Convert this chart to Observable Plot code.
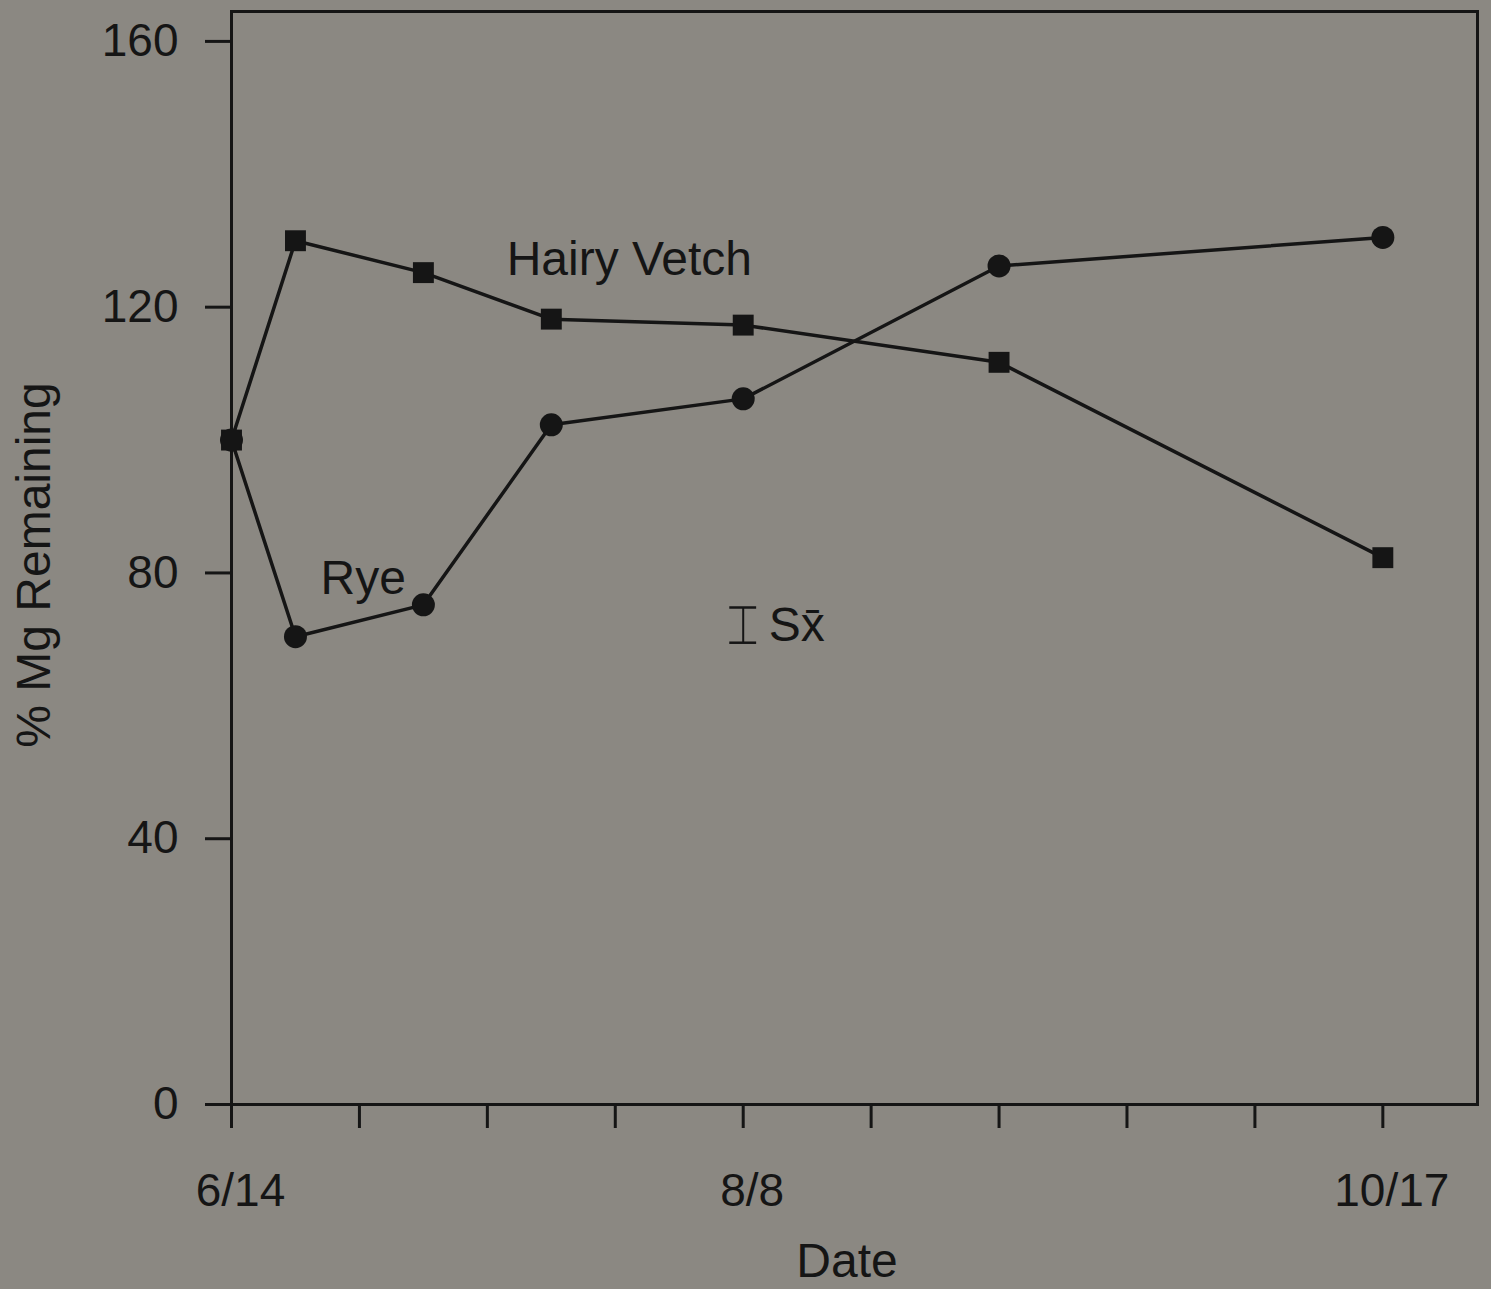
<!DOCTYPE html>
<html><head><meta charset="utf-8">
<script src="https://cdn.jsdelivr.net/npm/d3@7"></script>
<script src="https://cdn.jsdelivr.net/npm/@observablehq/plot@0.6"></script>
<style>
html,body{margin:0;padding:0;background:#8b8882;overflow:hidden;}
svg{display:block;}
</style></head><body><div id="chart"></div>
<script>
// sampling positions, in two-week intervals after 6/14
const samplePos = [0, 0.5, 1.5, 2.5, 4, 6, 9];
const hairyVetch = [100, 130, 125.2, 118.2, 117.3, 111.7, 82.3];
const rye = [100, 70.4, 75.2, 102.3, 106.2, 126.2, 130.5];
const xTickPos = [0, 1, 2, 3, 4, 5, 6, 7, 8, 9];
const xTickLabels = {0: "6/14", 4: "8/8", 9: "10/17"};
const yTicks = [0, 40, 80, 120, 160];
const seriesNames = ["Hairy Vetch", "Rye"];
const seriesLabelX = [3.11, 1.03];
const seriesLabelY = [127.2, 79.1];
// standard error key: bar centre and half-length, then its label
const seBarX = [4.0];
const seBarMean = [72.15];
const seBarHalf = [2.65];
const seBarCapHalfWidth = 0.105;
const seLabel = ["Sx\u0304"];
const seLabelX = [4.2];
const seLabelY = [72];

const ink = "#151515";
const vetchData = samplePos.map((x, i) => ({x, y: hairyVetch[i]}));
const ryeData = samplePos.map((x, i) => ({x, y: rye[i]}));
const labels = seriesNames.map((name, i) => ({name, x: seriesLabelX[i], y: seriesLabelY[i]}));
const seBar = seBarX.map((x, i) => ({x, lo: seBarMean[i] - seBarHalf[i], hi: seBarMean[i] + seBarHalf[i]}));
const seCaps = seBar.flatMap(d => [{x1: d.x - seBarCapHalfWidth, x2: d.x + seBarCapHalfWidth, y: d.lo}, {x1: d.x - seBarCapHalfWidth, x2: d.x + seBarCapHalfWidth, y: d.hi}]);
const seText = seLabel.map((t, i) => ({t, x: seLabelX[i], y: seLabelY[i]}));

const chart = Plot.plot({
  width: 1491,
  height: 1289,
  marginLeft: 231,
  marginRight: 14,
  marginTop: 11,
  marginBottom: 185,
  style: {background: "#8b8882", fontFamily: "'Liberation Sans', Arial, sans-serif", color: ink},
  x: {domain: [0, 9.74]},
  y: {domain: [0, 164.5]},
  marks: [
    Plot.frame({stroke: ink, strokeWidth: 3}),
    Plot.axisY({ticks: yTicks, tickSize: 26, tickPadding: 27, fontSize: 46, label: null, stroke: ink, strokeWidth: 3, fill: ink}),
    Plot.axisX({ticks: xTickPos, tickFormat: () => "", tickSize: 24, label: null, stroke: ink, strokeWidth: 3}),
    Plot.axisX({ticks: xTickPos, tickFormat: d => xTickLabels[d] ?? "", tickSize: 0, tickPadding: 69, fontSize: 46, label: null, fill: ink, dx: 9}),
    Plot.line(vetchData, {x: "x", y: "y", stroke: ink, strokeWidth: 3.5}),
    Plot.line(ryeData, {x: "x", y: "y", stroke: ink, strokeWidth: 3.5}),
    Plot.dot(vetchData, {x: "x", y: "y", symbol: "square", r: 11.8, fill: ink}),
    Plot.dot(ryeData, {x: "x", y: "y", symbol: "circle", r: 11.5, fill: ink}),
    Plot.text(labels, {x: "x", y: "y", text: "name", fontSize: 48, fill: ink}),
    Plot.ruleX(seBar, {x: "x", y1: "lo", y2: "hi", stroke: ink, strokeWidth: 2}),
    Plot.ruleY(seCaps, {x1: "x1", x2: "x2", y: "y", stroke: ink, strokeWidth: 2.5}),
    Plot.text(seText, {x: "x", y: "y", text: "t", fontSize: 48, fill: ink, textAnchor: "start"})
  ]
});

const svg = d3.select(chart);
svg.append("text")
  .attr("transform", "translate(50,565) rotate(-90)")
  .attr("text-anchor", "middle")
  .attr("font-size", 48)
  .attr("fill", ink)
  .text("% Mg Remaining");
svg.append("text")
  .attr("x", 847).attr("y", 1277)
  .attr("text-anchor", "middle")
  .attr("font-size", 48)
  .attr("fill", ink)
  .text("Date");

document.getElementById("chart").appendChild(chart);
</script>
</body></html>
